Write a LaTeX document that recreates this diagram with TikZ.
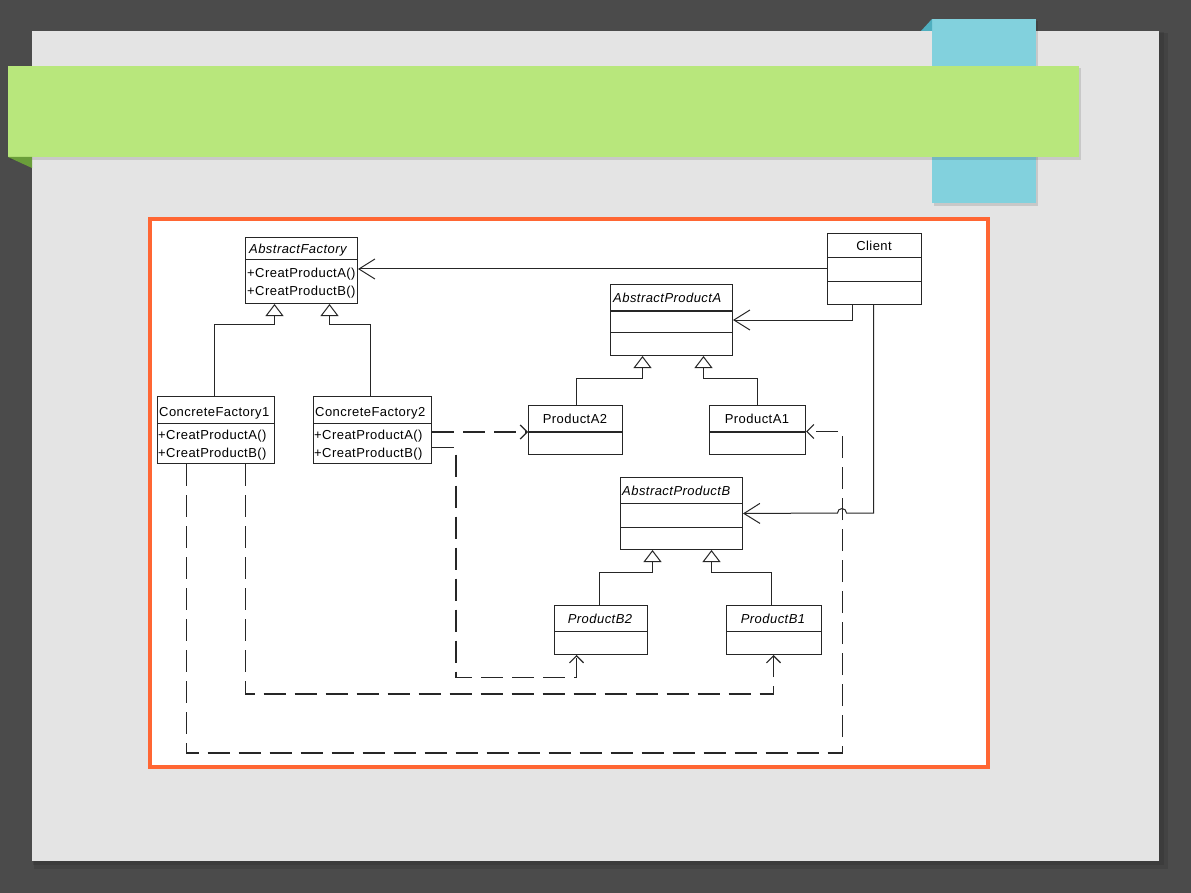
\documentclass[tikz,border=0pt]{standalone}
\usepackage{fontspec}
\setmainfont{Liberation Sans}
\newfontfamily\umlfont[LetterSpace=3.5]{Liberation Sans}
\usetikzlibrary{arrows.meta}
\definecolor{bgdark}{HTML}{4B4B4B}
\definecolor{pagegray}{HTML}{E4E4E4}
\definecolor{bannergreen}{HTML}{B8E77C}
\definecolor{folddarkgreen}{HTML}{6A9E3A}
\definecolor{tabblue}{HTML}{82D1DD}
\definecolor{tabfold}{HTML}{4FAFBF}
\definecolor{frameorange}{HTML}{FF6633}
\definecolor{umlline}{HTML}{262626}
\tikzset{
  umlbox/.style={draw=umlline, fill=white, line width=1pt, inner sep=0pt, anchor=north west},
  divline/.style={draw=umlline, line width=1pt},
  thickdiv/.style={draw=umlline, line width=2.6pt},
  umltext/.style={inner sep=0pt, yshift=-1.5pt, text height=9.5pt, text depth=2.5pt, font=\umlfont\fontsize{13}{15}\selectfont, text=black},
  umlital/.style={umltext, font=\umlfont\fontsize{13}{15}\selectfont\itshape},
  inh/.style={draw=umlline, line width=1pt, -{Triangle[open,length=12pt,width=18pt]}},
  assoc/.style={draw=umlline, line width=1pt, -{Straight Barb[length=16pt,width=20pt]}},
  dep/.style={draw=umlline, line width=1.2pt, dash pattern=on 22pt off 9pt, -{Straight Barb[length=7pt,width=14pt]}}
}
\begin{document}
\begin{tikzpicture}[x=1pt,y=-1pt]
\useasboundingbox (0,0) rectangle (1191,893);
% slide background
\fill[bgdark] (0,0) rectangle (1191,893);
\fill[black,opacity=0.10] (34,33) rectangle (1168,869);
\fill[black,opacity=0.10] (33,32) rectangle (1164,865);
\fill[pagegray] (32,31) rectangle (1159,861);
% blue tab
\fill[black,opacity=0.12] (934,21) rectangle (1038,206);
\fill[tabblue] (932,19) rectangle (1036,203);
\fill[tabfold] (921,31) -- (932,19) -- (932,31) -- cycle;
% green banner
\fill[black,opacity=0.12] (10,68) rectangle (1081,160);
\fill[bannergreen] (8,66) rectangle (1079,157);
\fill[folddarkgreen] (8,157) -- (32,157) -- (32,168) -- cycle;
% orange frame
\draw[frameorange, line width=4pt, fill=white] (150,219) rectangle (988,767);

% ---------- UML boxes ----------
\node[umlbox, minimum width=112pt, minimum height=66pt] (af) at (245,237) {};
\draw[divline] ([yshift=-23pt]af.north west) -- ([yshift=-23pt]af.north east);
\node[umlital, anchor=west] (afname) at (249,249) {AbstractFactory};
\node[umltext, anchor=west] (afm1) at (247,273) {+CreatProductA()};
\node[umltext, anchor=west] (afm2) at (247,290) {+CreatProductB()};

\node[umlbox, minimum width=94pt, minimum height=71pt] (client) at (827,233) {};
\draw[divline] ([yshift=-25pt]client.north west) -- ([yshift=-25pt]client.north east);
\draw[divline] ([yshift=-49pt]client.north west) -- ([yshift=-49pt]client.north east);
\node[umltext] (clientname) at (874,246) {Client};

\node[umlbox, minimum width=122pt, minimum height=71pt] (apa) at (610,284) {};
\draw[thickdiv] ([yshift=-27pt]apa.north west) -- ([yshift=-27pt]apa.north east);
\draw[divline] ([yshift=-48pt]apa.north west) -- ([yshift=-48pt]apa.north east);
\node[umlital, anchor=west] (apaname) at (613,297) {AbstractProductA};

\node[umlbox, minimum width=94pt, minimum height=49pt] (pa2) at (528,405) {};
\draw[thickdiv] ([yshift=-27pt]pa2.north west) -- ([yshift=-27pt]pa2.north east);
\node[umltext] (pa2name) at (575,418) {ProductA2};

\node[umlbox, minimum width=96pt, minimum height=49pt] (pa1) at (709,405) {};
\draw[thickdiv] ([yshift=-27pt]pa1.north west) -- ([yshift=-27pt]pa1.north east);
\node[umltext] (pa1name) at (757,418) {ProductA1};

\node[umlbox, minimum width=117pt, minimum height=67pt] (cf1) at (157,396) {};
\draw[divline] ([yshift=-27pt]cf1.north west) -- ([yshift=-27pt]cf1.north east);
\node[umltext, anchor=west] (cf1name) at (159,411) {ConcreteFactory1};
\node[umltext, anchor=west] (cf1m1) at (158,434) {+CreatProductA()};
\node[umltext, anchor=west] (cf1m2) at (158,452) {+CreatProductB()};

\node[umlbox, minimum width=118pt, minimum height=67pt] (cf2) at (313,396) {};
\draw[divline] ([yshift=-27pt]cf2.north west) -- ([yshift=-27pt]cf2.north east);
\node[umltext, anchor=west] (cf2name) at (315,411) {ConcreteFactory2};
\node[umltext, anchor=west] (cf2m1) at (314,434) {+CreatProductA()};
\node[umltext, anchor=west] (cf2m2) at (314,452) {+CreatProductB()};

\node[umlbox, minimum width=122pt, minimum height=72pt] (apb) at (620,477) {};
\draw[divline] ([yshift=-26pt]apb.north west) -- ([yshift=-26pt]apb.north east);
\draw[divline] ([yshift=-50pt]apb.north west) -- ([yshift=-50pt]apb.north east);
\node[umlital, anchor=west] (apbname) at (622,490) {AbstractProductB};

\node[umlbox, minimum width=93pt, minimum height=49pt] (pb2) at (554,605) {};
\draw[divline] ([yshift=-26pt]pb2.north west) -- ([yshift=-26pt]pb2.north east);
\node[umlital] (pb2name) at (600,618) {ProductB2};

\node[umlbox, minimum width=95pt, minimum height=49pt] (pb1) at (726,605) {};
\draw[divline] ([yshift=-26pt]pb1.north west) -- ([yshift=-26pt]pb1.north east);
\node[umlital] (pb1name) at (773,618) {ProductB1};

% ---------- inheritance ----------
\draw[inh] ([xshift=-1.5pt]cf1.north) -- ++(0,-72) -| ([xshift=-27pt]af.south);
\draw[inh] ([xshift=-2.5pt]cf2.north) -- ++(0,-72) -| ([xshift=28pt]af.south);
\draw[inh] (pa2.north) ++(1,0) -- ++(0,-27) -| ([xshift=-29pt]apa.south);
\draw[inh] (pa1.north) -- ++(0,-27) -| ([xshift=32pt]apa.south);
\draw[inh] ([xshift=-1.5pt]pb2.north) -- ++(0,-33) -| ([xshift=-29pt]apb.south);
\draw[inh] ([xshift=-2.5pt]pb1.north) -- ++(0,-33) -| ([xshift=30pt]apb.south);

% ---------- associations ----------
\draw[assoc] (client.west) -- (client.west -| af.east);
\draw[assoc] ([xshift=-22pt]client.south) |- (apa.east);
\coordinate (hopc) at (842,513);
\draw[assoc] ([xshift=-1pt]client.south) |- ([xshift=4.5pt]hopc)
   arc[start angle=0, end angle=180, radius=4.5pt] -- (apb.east);

% ---------- dependencies ----------
\draw[dep] ([yshift=-2pt]cf2.east) coordinate (cf2a) -- (cf2a -| pa2.west);
\draw[dep] ([yshift=-17.5pt]cf2.east) -- ++(24,0) -- ++(0,230) -| ([xshift=-24.5pt]pb2.south);
\draw[dep] ([xshift=29.5pt]cf1.south) -- ++(0,230) -| ([xshift=-0.5pt]pb1.south);
\draw[dep] ([xshift=-29.5pt]cf1.south) -- ++(0,289) -- ++(656,0) |- ([yshift=-1.5pt]pa1.east);
\end{tikzpicture}
\end{document}
